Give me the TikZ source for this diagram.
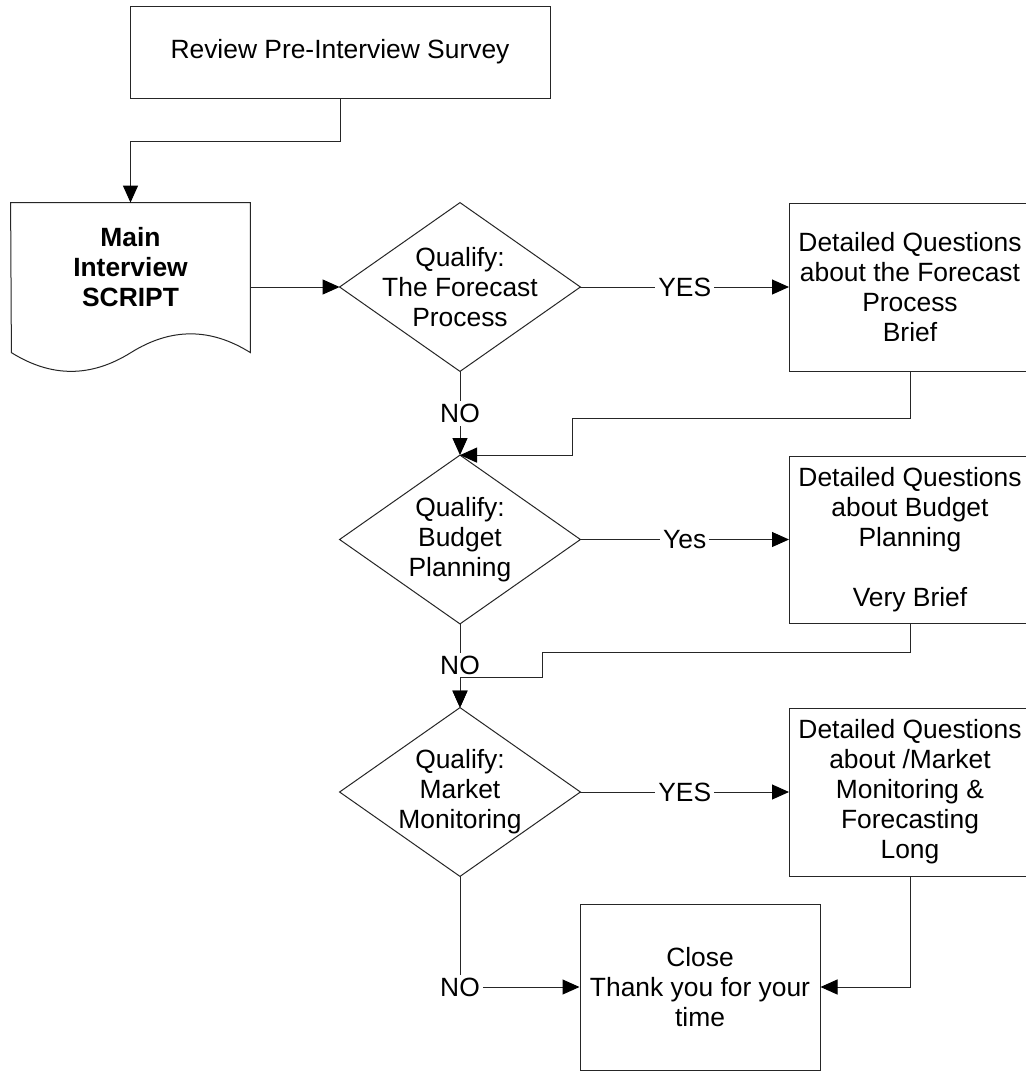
\documentclass[tikz,border=0pt]{standalone}
\usepackage{fontspec}
\setmainfont{Liberation Sans}
\usetikzlibrary{arrows.meta,calc}
\begin{document}
\begin{tikzpicture}[x=0.5pt, y=-0.5pt,
  every node/.style={font=\fontsize{13.2pt}{15pt}\selectfont},
  line/.style={draw=black!85, line width=0.5pt},
  arr/.style={line, -{Triangle[length=8.5pt,width=7.5pt,color=black]}},
  procbox/.style={line, rectangle, align=center, inner sep=0pt,
                  minimum width=121pt, minimum height=84pt},
  sidebox/.style={procbox, minimum width=126pt},
  decision/.style={rectangle, align=center, inner sep=0pt,
                   minimum width=120pt, minimum height=84pt},
  lbl/.style={fill=white, inner sep=1.5pt}]

% page area
\fill[white] (0,0) rectangle (1026,1073);
\useasboundingbox (0,0) rectangle (1026,1073);

% ---- nodes ----
\node[procbox, minimum width=210pt, minimum height=46pt] (survey) at (340,52)
  {Review Pre-Interview Survey};

\node[rectangle, inner sep=0pt, minimum width=119.5pt, minimum height=84pt,
      label={[font=\fontsize{13.2pt}{15pt}\selectfont\bfseries, align=center,
              yshift=10pt]center:Main\\Interview\\SCRIPT}] (script) at (130.5,287) {};

\node[decision] (d1) at (460,287) {Qualify:\\The Forecast\\Process};
% the question boxes run past the right edge of the page
\coordinate (q1c) at (910,287);
\node[sidebox, anchor=west] (q1) at (789,287) {};
\node at (q1c) [align=center] {Detailed Questions\\about the Forecast\\Process\\Brief};

\node[decision] (d2) at (460,539.5) {Qualify:\\Budget\\Planning};
\node[sidebox, anchor=west, minimum height=83.5pt] (q2) at (789,539.5) {};
\node at (910,539.5) [align=center]
  {Detailed Questions\\about Budget\\Planning\\[15pt]Very Brief};

\node[decision] (d3) at (460,792) {Qualify:\\Market\\Monitoring};
\node[sidebox, anchor=west] (q3) at (789,792) {};
\node at (910,792) [align=center]
  {Detailed Questions\\about /Market\\Monitoring \&\\Forecasting\\Long};

\node[procbox, minimum width=120pt, minimum height=83pt] (close) at (700,987)
  {Close\\Thank you for your\\time};

% ---- shapes drawn around the decision and document nodes ----
\foreach \d in {d1,d2,d3}
  \draw[line] (\d.north) -- (\d.east) -- (\d.south) -- (\d.west) -- cycle;

\draw[line] (script.north west) -- (script.north east) -- ++(0,150)
  .. controls +(-40,-25) and +(40,-25) .. ++(-119.5,0)
  .. controls +(-40,25) and +(40,25) .. ++(-119.5,0) -- cycle;

% ---- connectors ----
\draw[arr] (survey.south) -- ++(0,43) -| (script.north);
\draw[arr] (script.east) -- (d1.west);

\draw[arr] (d1.east) -- node[lbl] {YES} (q1.west);
\draw[arr] (d1.south) -- node[lbl] {NO} (d2.north);
\draw[arr] (q1.south west -| q1c) -- ++(0,47) -| ($(d2.north)+(112,0)$) -- (d2.north);

\draw[arr] (d2.east) -- node[lbl] {Yes} (q2.west);
\draw[arr] (d2.south) -- node[lbl] {NO} (d3.north);
\draw[arr] (q2.south west -| q1c) -- ++(0,28.5) -| ($(d3.north)+(82,-30)$) -| (d3.north);

\draw[arr] (d3.east) -- node[lbl] {YES} (q3.west);
\draw[arr] (d3.south) |- node[lbl, pos=0.5] {NO} (close.west);
\draw[arr] (q3.south west -| q1c) |- (close.east);
\end{tikzpicture}
\end{document}
